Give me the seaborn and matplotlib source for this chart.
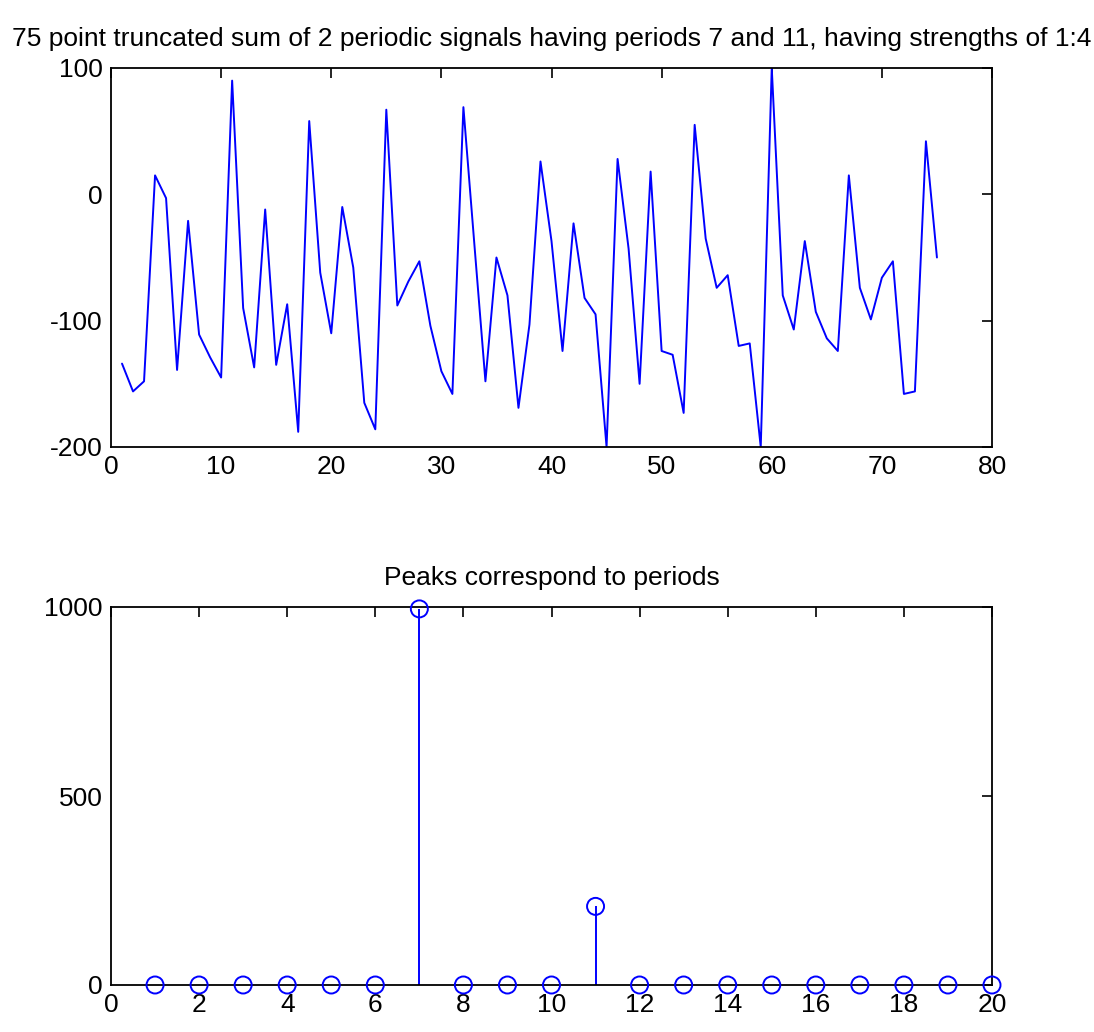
import numpy as np
import pandas as pd
import seaborn as sns
import matplotlib
matplotlib.use("Agg")
import matplotlib.pyplot as plt

# ---- data ----
sample_index = list(range(1, 76))
signal_values = [
    -134, -156, -148, 15, -3, -139, -21, -111, -129, -145,
    90, -90, -137, -12, -135, -87, -188, 58, -62, -110,
    -10, -58, -165, -186, 67, -88, -69, -53, -104, -140,
    -158, 69, -40, -148, -50, -80, -169, -103, 26, -37,
    -124, -23, -82, -95, -200, 28, -43, -150, 18, -124,
    -127, -173, 55, -35, -74, -64, -120, -118, -200, 100,
    -80, -107, -37, -93, -114, -124, 15, -74, -99, -66,
    -53, -158, -156, 42, -50,
]
period_index = list(range(1, 21))
period_strength = [0, 0, 0, 0, 0, 0, 995, 0, 0, 0,
                   208, 0, 0, 0, 0, 0, 0, 0, 0, 0]

title_top = "75 point truncated sum of 2 periodic signals having periods 7 and 11, having strengths of 1:4"
title_bottom = "Peaks correspond to periods"

# ---- style ----
sns.set_theme(style="white")
plt.rcParams['font.family'] = ['Liberation Sans Narrow', 'Liberation Sans', 'DejaVu Sans']
plt.rcParams['axes.edgecolor'] = 'black'
plt.rcParams['axes.linewidth'] = 1.3
plt.rcParams['axes.unicode_minus'] = False
plt.rcParams['text.color'] = 'black'
plt.rcParams['axes.titlecolor'] = 'black'

BLUE = (0, 0, 1)
FS = 19

fig = plt.figure(figsize=(10.94, 10.32), dpi=100)
ax1 = fig.add_axes([111/1094, 1-447/1032, 881/1094, 379/1032])
ax2 = fig.add_axes([111/1094, 1-985/1032, 881/1094, 378/1032])

df = pd.DataFrame({"n": sample_index, "v": signal_values})
sns.lineplot(data=df, x="n", y="v", ax=ax1, color=BLUE, linewidth=1.4)
ax1.set_xlim(0, 80)
ax1.set_ylim(-200, 100)
ax1.set_xticks(range(0, 81, 10))
ax1.set_yticks([-200, -100, 0, 100])
ax1.set_xlabel("")
ax1.set_ylabel("")
ax1.set_title(title_top, fontsize=FS, pad=16, color='black')

dfp = pd.DataFrame({"p": period_index, "s": period_strength})
ax2.vlines(dfp["p"], 0, dfp["s"], color=BLUE, linewidth=1.4)
sns.scatterplot(data=dfp, x="p", y="s", ax=ax2, marker='o', s=150,
                facecolor='none', edgecolor=BLUE, linewidth=1.4, clip_on=False, zorder=5)
ax2.set_xlim(0, 20)
ax2.set_ylim(0, 1000)
ax2.set_xticks(range(0, 21, 2))
ax2.set_yticks([0, 500, 1000])
ax2.set_xlabel("")
ax2.set_ylabel("")
ax2.set_title(title_bottom, fontsize=FS, pad=16, color='black')

for ax in (ax1, ax2):
    for s in ax.spines.values():
        s.set_visible(True)
        s.set_color('black')
    ax.tick_params(direction='in', length=7, width=1.2, top=True, right=True,
                   labelsize=FS, pad=6, colors='black')

fig.savefig("out.png", dpi=100)
